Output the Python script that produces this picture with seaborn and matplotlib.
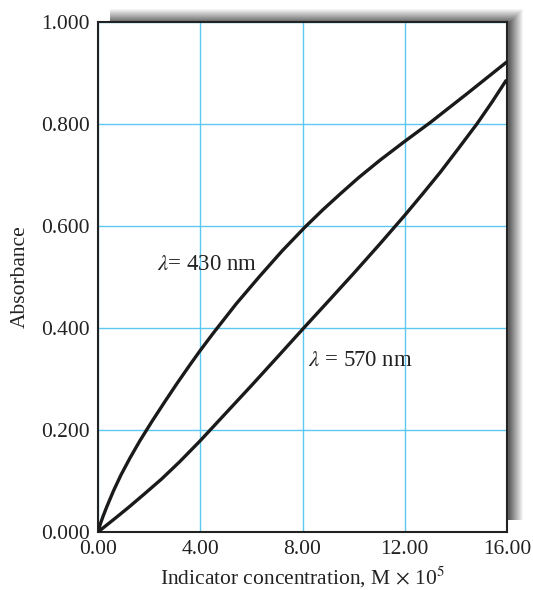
import numpy as np
import pandas as pd
import matplotlib
matplotlib.use("Agg")
import matplotlib.pyplot as plt
import seaborn as sns

# Absorbance vs. indicator concentration at two wavelengths
conc_430 = [0, 0.1, 0.2, 0.34, 0.6, 0.9, 1.25, 1.64, 2.1, 2.62, 3.1, 3.6, 4.0, 4.51,
            5.4, 6.3, 7.2, 8.1, 8.8, 9.5, 10.2, 11.03, 12.0, 13.0, 14.4, 16.0]
abs_430 = [0, 0.017, 0.031, 0.049, 0.08, 0.112, 0.145, 0.179, 0.216, 0.256, 0.292, 0.328,
           0.356, 0.39, 0.447, 0.5, 0.551, 0.598, 0.632, 0.664, 0.695, 0.729, 0.766,
           0.803, 0.858, 0.922]

conc_570 = [0, 0.3, 0.7, 1.19, 1.8, 2.49, 3.2, 4.0, 5.0, 6.0, 7.0, 8.03, 9.0, 10.0,
            11.03, 12.0, 12.7, 13.4, 14.1, 14.82, 15.4, 15.96]
abs_570 = [0, 0.012, 0.028, 0.048, 0.074, 0.104, 0.138, 0.179, 0.233, 0.287, 0.342,
           0.399, 0.452, 0.507, 0.565, 0.621, 0.663, 0.706, 0.752, 0.8, 0.842, 0.885]

x_ticks = [0, 4, 8, 12, 16]
x_tick_labels = ["0.00", "4.00", "8.00", "12.00", "16.00"]
y_ticks = [0, 0.2, 0.4, 0.6, 0.8, 1.0]
y_tick_labels = ["0.000", "0.200", "0.400", "0.600", "0.800", "1.000"]

sns.set_style("white")
plt.rcParams["font.family"] = ["Liberation Serif", "DejaVu Serif"]
plt.rcParams["mathtext.fontset"] = "stix"

W, H = 533, 590
fig = plt.figure(figsize=(W / 100, H / 100), dpi=100)
fig.patch.set_facecolor("white")

# Gray drop shadow along the top and right of the frame
shadow = np.ones((H, W, 4))
yy, xx = np.mgrid[0:H, 0:W]
x0, x1, y0, y1 = 110, 522, 9, 519
inside = (xx >= x0) & (xx <= x1) & (yy >= y0) & (yy <= y1)
d = np.minimum(yy - y0, x1 - xx).astype(float)
val = 0.96 - 0.58 * np.clip(d / 13.0, 0, 1)
for c in range(3):
    shadow[..., c] = np.where(inside, val, 1.0)
shadow[..., 3] = 1.0
fig.figimage(shadow, xo=0, yo=0, origin="upper", zorder=-5)

ax = fig.add_axes([98 / W, (H - 532) / H, 409 / W, 510 / H])
ax.set_facecolor("white")
ax.set_zorder(1)

df_430 = pd.DataFrame({"conc": conc_430, "absorbance": abs_430})
df_570 = pd.DataFrame({"conc": conc_570, "absorbance": abs_570})
line_kw = dict(color="#1a1a1a", lw=2.4, sort=False, zorder=3)
sns.lineplot(data=df_430, x="conc", y="absorbance", ax=ax, **line_kw)
sns.lineplot(data=df_570, x="conc", y="absorbance", ax=ax, **line_kw)
for ln in ax.get_lines():
    ln.set_solid_joinstyle("round")
    ln.set_solid_capstyle("round")

ax.set_xlim(0, 16)
ax.set_ylim(0, 1.0)
ax.set_xticks(x_ticks)
ax.set_xticklabels(x_tick_labels)
ax.set_yticks(y_ticks)
ax.set_yticklabels(y_tick_labels)
ax.tick_params(axis="both", length=0, labelsize=15.5, colors="#222222")
ax.tick_params(axis="x", pad=6)
ax.tick_params(axis="y", pad=6)

ax.grid(True, color="#5cc8f2", lw=1.0, zorder=1)
for s in ax.spines.values():
    s.set_visible(True)
    s.set_color("#222222")
    s.set_linewidth(1.5)

ax.set_xlabel(r"Indicator concentration, M$\,\times\,$10$^5$", fontsize=15.5,
              color="#222222", labelpad=4)
ax.set_ylabel("Absorbance", fontsize=15.5, color="#222222", labelpad=8)

ax.text(2.3, 0.524, r"$\lambda$= 430 nm", fontsize=16.5, color="#222222",
        va="center", ha="left", zorder=4)
ax.text(8.2, 0.337, r"$\lambda$ = 570 nm", fontsize=16.5, color="#222222",
        va="center", ha="left", zorder=4)

fig.savefig("out.png", dpi=100, facecolor="white")
